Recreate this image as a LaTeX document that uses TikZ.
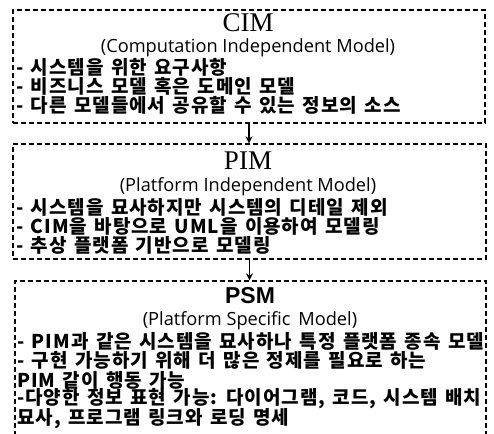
\documentclass[tikz,border=0pt]{standalone}
\usepackage{fontspec}
\usetikzlibrary{arrows.meta}
\newfontfamily\krfont[LetterSpace=5,WordSpace=1.4]{Noto Sans CJK KR}
\newfontfamily\subfont{Open Sans}
\newfontfamily\seriftitle{Liberation Serif}
\newfontfamily\sanstitle{Liberation Sans}
\begin{document}
\begin{tikzpicture}[x=1pt, y=-1pt,
  box/.style={draw, dash pattern=on 5pt off 3pt, line width=1.3pt, inner sep=0pt},
  conn/.style={line width=1.3pt, -{Stealth[length=7pt,width=7pt]}},
  ttl/.style={inner sep=0pt, font=\seriftitle\fontsize{27}{27}\selectfont},
  ttlb/.style={inner sep=0pt, font=\sanstitle\bfseries\fontsize{23}{23}\selectfont},
  sub/.style={inner sep=0pt, font=\subfont\fontsize{18.2}{18.2}\selectfont},
  item/.style={anchor=west, inner sep=0pt, font=\krfont\bfseries\fontsize{19}{19}\selectfont}]
\useasboundingbox (0,0) rectangle (494,433);
\fill[white] (0,0) rectangle (494,433);

% the three model boxes
\node[box, minimum width=472pt, minimum height=113pt] (cim) at (249,66.5) {};
\node[box, minimum width=473pt, minimum height=115pt] (pim) at (249.5,201.5) {};
\begin{scope}
  \clip (0,0) rectangle (494,433);
  \node[box, minimum width=471pt, minimum height=180pt] (psm) at (250.5,371) {};
\end{scope}

% transformation arrows
\draw[conn] (cim.south) -- (cim.south |- pim.north);
\draw[conn] (pim.south) -- (pim.south |- psm.north);

% CIM
\node[ttl] (cimT) at (248,23) {CIM};
\node[sub] (cimS) at (248,48) {(Computation Independent Model)};
\node[item] (cim1) at (16,67) {- 시스템을 위한 요구사항};
\node[item] (cim2) at (16,86) {- 비즈니스 모델 혹은 도메인 모델};
\node[item] (cim3) at (16,105) {- 다른 모델들에서 공유할 수 있는 정보의 소스};

% PIM
\node[ttl] (pimT) at (248,161) {PIM};
\node[sub] (pimS) at (248,187) {(Platform Independent Model)};
\node[item] (pim1) at (16,207) {- 시스템을 묘사하지만 시스템의 디테일 제외};
\node[item] (pim2) at (16,226) {- CIM을 바탕으로 UML을 이용하여 모델링};
\node[item] (pim3) at (16,245) {- 추상 플랫폼 기반으로 모델링};

% PSM
\node[ttlb] (psmT) at (250,296) {PSM};
\node[sub] (psmS) at (250,321) {(Platform Specific\, Model)};
\node[item] (psm1) at (17,341) {- PIM과 같은 시스템을 묘사하나 특정 플랫폼 종속 모델};
\node[item] (psm2) at (17,360) {- 구현 가능하기 위해 더 많은 정제를 필요로 하는};
\node[item] (psm3) at (17,380) {PIM 같이 행동 가능};
\node[item] (psm4) at (17,399) {-다양한 정보 표현 가능: 다이어그램, 코드, 시스템 배치};
\node[item] (psm5) at (17,419) {묘사, 프로그램 링크와 로딩 명세};
\end{tikzpicture}
\end{document}
